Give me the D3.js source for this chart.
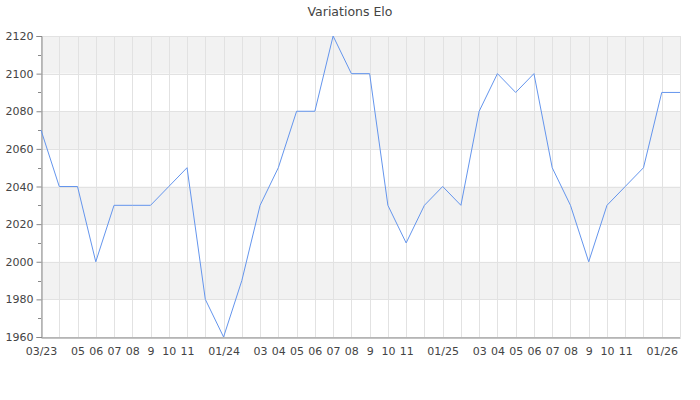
<!DOCTYPE html>
<html><head><meta charset="utf-8">
<script src="https://cdn.jsdelivr.net/npm/d3@7"></script>
<style>body{margin:0;background:#fff}svg{display:block}text{font-family:"DejaVu Sans",sans-serif}</style>
</head><body><svg id="c" width="700" height="400"></svg>
<script>
const months = ["03/23","04","05","06","07","08","09","10","11","12","01/24","02","03","04","05","06","07","08","09","10","11","12","01/25","02","03","04","05","06","07","08","09","10","11","12","01/26","02"];
const elo = [2070,2040,2040,2000,2030,2030,2030,2040,2050,1980,1960,1990,2030,2050,2080,2080,2120,2100,2100,2030,2010,2030,2040,2030,2080,2100,2090,2100,2050,2030,2000,2030,2040,2050,2090,2090];
const xLabels = ["03/23","","05","06","07","08","9","10","11","","01/24","","03","04","05","06","07","08","9","10","11","","01/25","","03","04","05","06","07","08","9","10","11","","01/26",""];
const yTicks = [1960,1980,2000,2020,2040,2060,2080,2100,2120];
const title = "Variations Elo";

const svg = d3.select("#c");
const L=41,R=680,T=36,B=337;
const x = d3.scalePoint().domain(d3.range(months.length)).range([L,R]);
const y = d3.scaleLinear().domain([1960,2120]).range([B,T]);

// bands
for(let i=0;i<yTicks.length-1;i++){
  if(i%2===1){
    svg.append("rect").attr("x",L).attr("width",R-L)
      .attr("y",y(yTicks[i+1])).attr("height",y(yTicks[i])-y(yTicks[i+1])).attr("fill","#f2f2f2");
  }
}
// grid
svg.append("g").selectAll("line").data(yTicks).join("line")
  .attr("x1",L).attr("x2",R).attr("y1",d=>Math.round(y(d))+0.5).attr("y2",d=>Math.round(y(d))+0.5)
  .attr("stroke","#e2e2e2");
svg.append("g").selectAll("line").data(d3.range(months.length)).join("line")
  .attr("y1",T).attr("y2",B).attr("x1",d=>Math.round(x(d))+0.5).attr("x2",d=>Math.round(x(d))+0.5)
  .attr("stroke","#e2e2e2");

// y axis
const ya = svg.append("g").attr("transform",`translate(${L+0.5},0)`)
  .call(d3.axisLeft(y).tickValues(yTicks).tickSize(5).tickPadding(3).tickFormat(d3.format("d")));
ya.select(".domain").attr("stroke","#888");
ya.selectAll(".tick line").attr("stroke","#888");
ya.selectAll("text").attr("fill","#444").attr("font-size",11);
const minor = d3.range(1970,2120,20);
svg.append("g").selectAll("line").data(minor).join("line")
  .attr("x1",L-3).attr("x2",L).attr("y1",d=>Math.round(y(d))+0.5).attr("y2",d=>Math.round(y(d))+0.5)
  .attr("stroke","#888");

// x axis
const xa = svg.append("g").attr("transform",`translate(0,${B+0.5})`)
  .call(d3.axisBottom(x).tickSize(0).tickPadding(10).tickFormat(i=>xLabels[i]));
xa.select(".domain").attr("stroke","#888");
xa.selectAll("text").attr("fill","#444").attr("font-size",11);

// line
svg.append("path").datum(elo)
  .attr("d",d3.line().x((d,i)=>x(i)).y(d=>y(d)))
  .attr("fill","none").attr("stroke","#6495ed").attr("stroke-width",1);

svg.append("text").attr("x",350).attr("y",16).attr("text-anchor","middle")
  .attr("font-size",12.5).attr("fill","#444").text(title);
</script></body></html>
